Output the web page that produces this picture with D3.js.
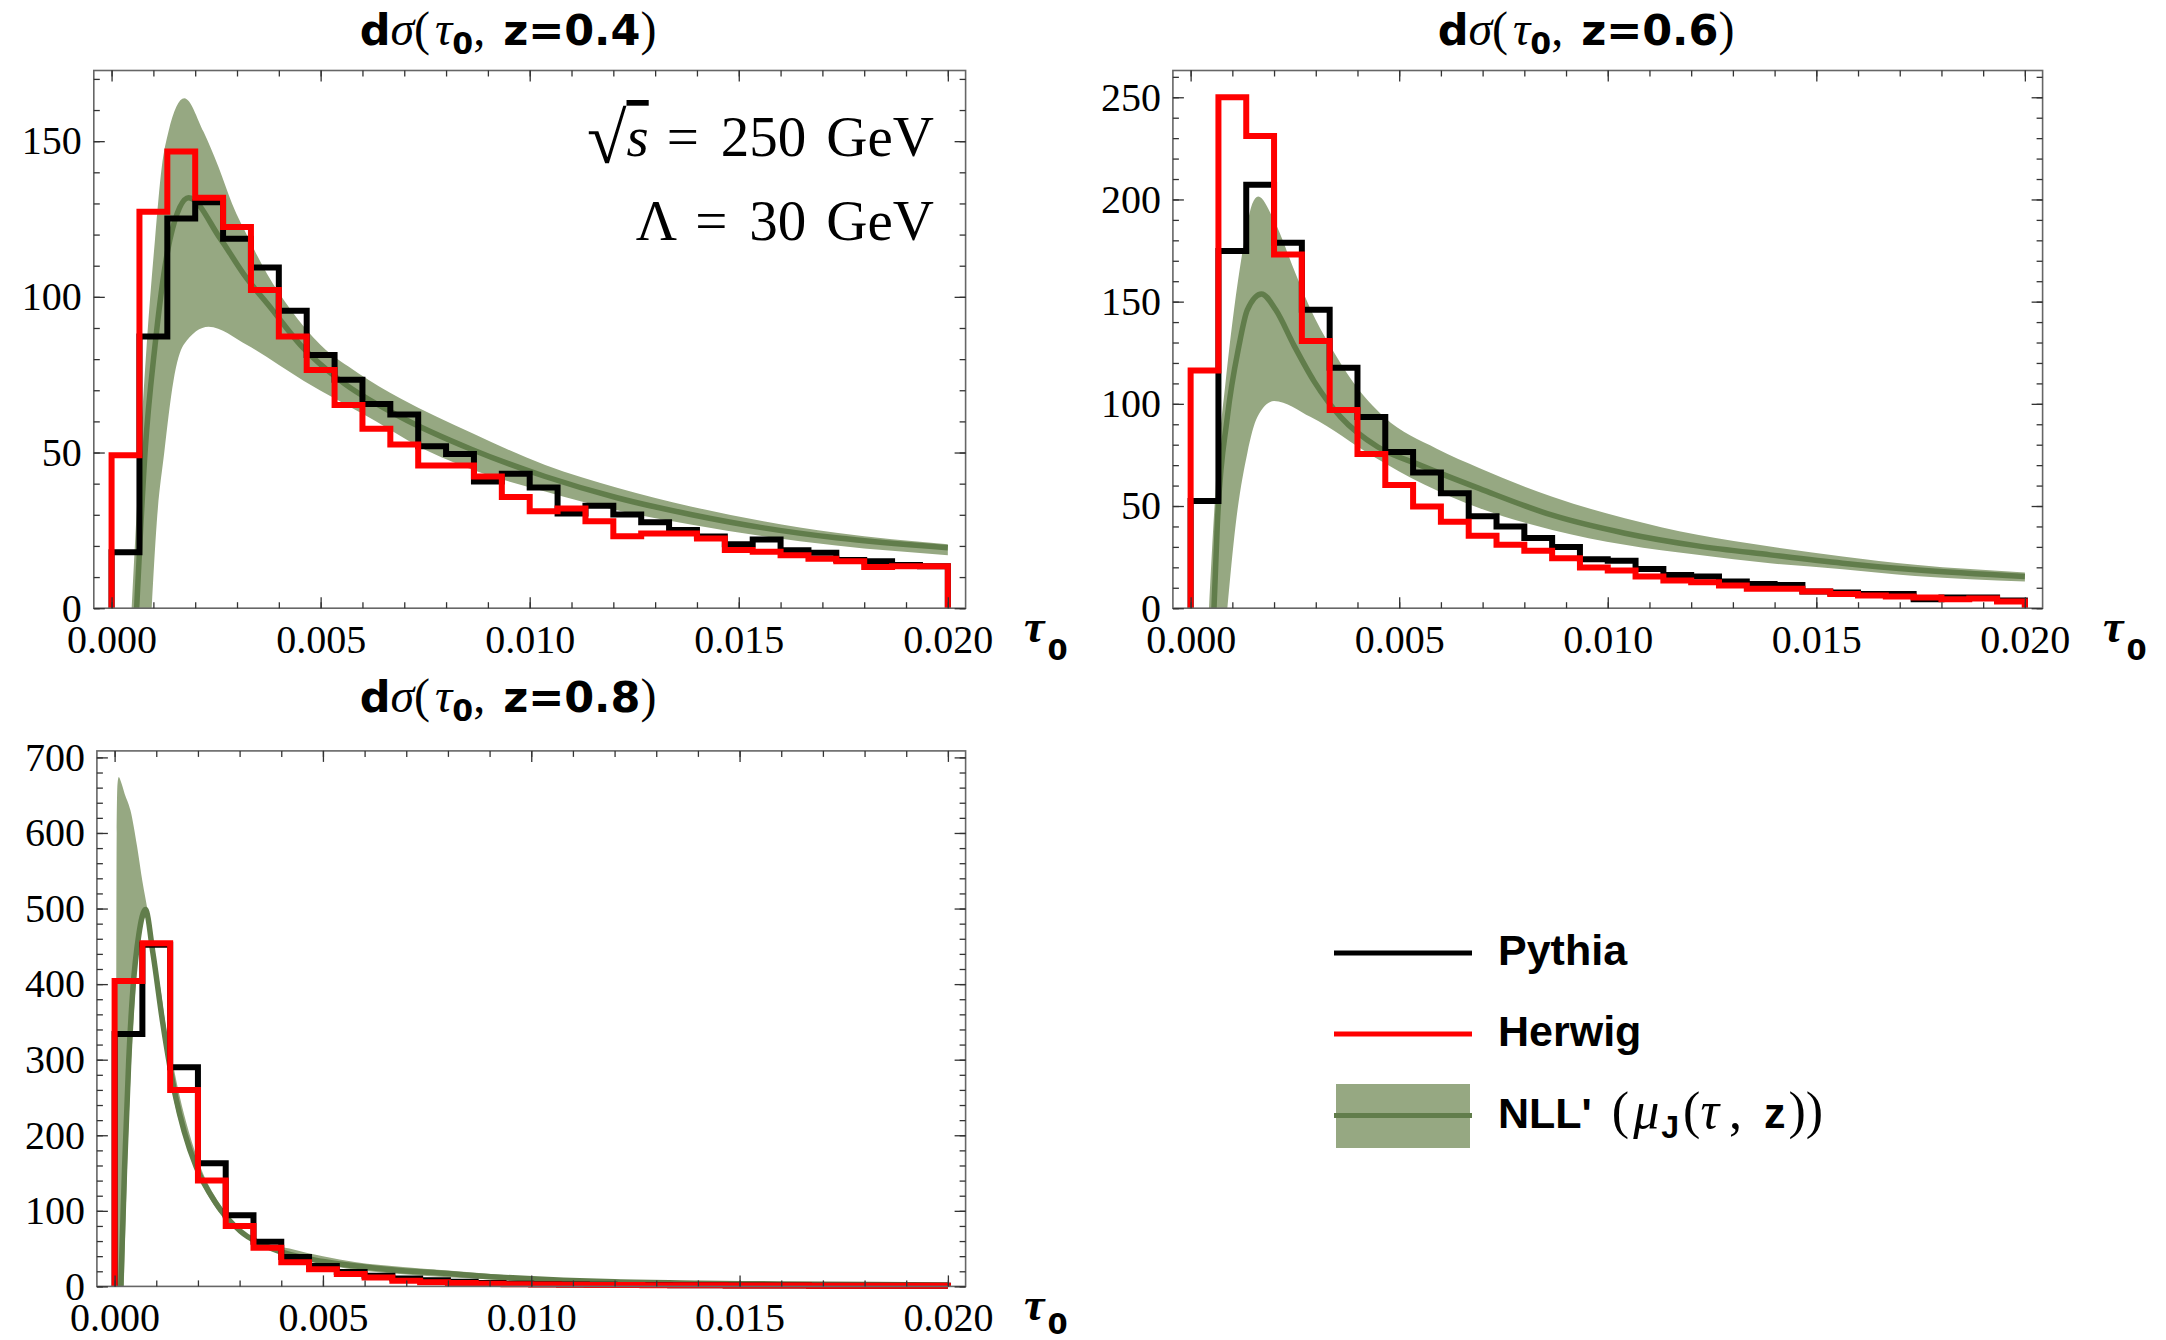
<!DOCTYPE html>
<html lang="en">
<head>
<meta charset="UTF-8">
<title>dσ(τ0, z) – NLL' vs Pythia / Herwig</title>
<script src="https://d3js.org/d3.v7.min.js"></script>
<style>
  body { margin: 0; background: #fff; }
  svg { display: block; }
</style>
</head>
<body>
<svg id="chart" width="2166" height="1340"></svg>
<script>
// ---- data ----
const tauTickValues = [0, 0.005, 0.010, 0.015, 0.020];
const tauTickLabels = ["0.000", "0.005", "0.010", "0.015", "0.020"];
const zValues = ["0.4", "0.6", "0.8"];
const legendLabels = ["Pythia", "Herwig"];

// histogram heights, 30 bins of width 0.02/30
const pythia04 = [18.0, 87.3, 125.2, 130.4, 118.7, 109.4, 95.5, 81.3, 73.4, 65.6, 62.2, 52.0, 49.5, 40.7, 43.2,
                  38.8, 30.4, 32.9, 30.1, 27.6, 25.1, 23.0, 20.5, 22.1, 18.6, 17.8, 15.5, 15.1, 13.9, 13.5];
const herwig04 = [49.1, 127.3, 146.7, 131.8, 122.4, 102.2, 87.3, 76.5, 65.3, 57.6, 52.6, 45.8, 45.8, 42.3, 35.7,
                  31.1, 32.0, 27.9, 23.1, 24.0, 24.0, 22.4, 18.7, 18.1, 17.0, 15.9, 15.1, 13.2, 13.5, 13.5];
const pythia06 = [52.4, 174.8, 207.2, 178.8, 146.0, 117.7, 93.5, 76.4, 66.4, 56.3, 45.0, 40.0, 34.3, 29.9, 24.0,
                  23.2, 19.2, 16.3, 15.5, 13.1, 11.9, 11.4, 8.2, 7.7, 7.0, 6.9, 4.4, 5.2, 5.2, 3.8];
const herwig06 = [116.3, 250.0, 231.1, 173.1, 130.8, 97.0, 75.5, 60.3, 49.8, 42.3, 35.4, 31.0, 28.1, 24.5, 19.9,
                  18.4, 15.5, 13.5, 12.7, 11.1, 9.5, 9.5, 8.2, 7.0, 6.2, 5.7, 5.2, 4.4, 4.7, 3.3];
const pythia08 = [334, 452, 290, 163, 94, 59, 39, 27, 19, 14, 10.5, 8, 6, 4.5, 3.5,
                  3, 2.5, 2.2, 2, 1.8, 1.6, 1.5, 1.3, 1.2, 1.1, 1, 1, 0.9, 0.8, 0.8];
const herwig08 = [404, 454, 260, 140, 80, 51, 32, 22.6, 16.5, 11.8, 7.5, 5.5, 4.4, 3.5, 2.8,
                  2.5, 2.2, 2, 1.8, 1.6, 1.5, 1.4, 1.3, 1.2, 1.1, 1.0, 1.0, 0.9, 0.9, 0.8];

// NLL' band edges and central curve, [tau, value]
const upper04 = [[0.00048,0],[0.00068,50],[0.00084,84.5],[0.00104,118.7],[0.0012,141.6],[0.00136,153],[0.00174,163.8],
  [0.0022,153],[0.00256,141.6],[0.00288,130],[0.00328,118.7],[0.00372,107.3],[0.00428,95.9],[0.005,84.5],[0.0059,75.5],
  [0.0069,67.4],[0.00863,56.2],[0.01037,46],[0.01211,38.6],[0.01385,32.7],[0.01559,27.9],[0.01733,24.2],[0.02,20.5]];
const center04 = [[0.0006,0],[0.0008,50],[0.00104,84.5],[0.0014,118.7],[0.00184,131.8],[0.0026,118.7],[0.00316,107.3],
  [0.00384,95.9],[0.00452,84.5],[0.00548,73],[0.0069,61.5],[0.00863,50.9],[0.01037,42.3],[0.01211,35.4],[0.01385,30.1],
  [0.01559,25.8],[0.01733,22.6],[0.02,19.4]];
const lower04 = [[0.00096,0],[0.00108,27.4],[0.00126,50],[0.00148,73],[0.00172,84.5],[0.00232,90.4],[0.00324,84.5],
  [0.0046,73],[0.00612,61.6],[0.00764,50],[0.00863,44.5],[0.01037,37.5],[0.01211,31.4],[0.01385,26.9],[0.01559,23.1],
  [0.01733,20.1],[0.02,17.0]];

const upper06 = [[0.00044,0],[0.0006,58.6],[0.00084,111],[0.00104,146],[0.0013,181],[0.00148,198],[0.00162,201.4],
  [0.002,189.7],[0.00252,163.5],[0.00288,146],[0.00334,128.5],[0.00388,111],[0.00464,93.5],[0.0059,78],[0.00693,68.5],
  [0.00867,54.5],[0.01041,44],[0.01215,35.9],[0.01389,30.2],[0.01563,25.3],[0.01737,21.2],[0.02,17.5]];
const center06 = [[0.00056,0],[0.00064,41],[0.00088,93.5],[0.00116,128.5],[0.00136,146],[0.0017,153.8],[0.00204,146],
  [0.00248,128.5],[0.00296,111],[0.0036,93.5],[0.00448,79],[0.0055,70],[0.00693,58.5],[0.00867,45.5],[0.01041,36.7],
  [0.01215,30.5],[0.01389,26.1],[0.01563,22],[0.01737,18.8],[0.02,15.5]];
const lower06 = [[0.00088,0],[0.00108,41],[0.00136,76],[0.0016,93.5],[0.002,101.4],[0.00288,93.5],[0.0044,74],
  [0.0056,60.5],[0.00693,48.9],[0.00867,38.3],[0.01041,31],[0.01215,26.1],[0.01389,22],[0.01563,19.1],[0.01737,15.8],
  [0.02,13.1]];

const upper08 = [[0.00004,0],[0.00005,600],[0.00007,665],[0.0001,674],[0.00015,668],[0.00024,652],[0.00038,630],
  [0.00054,582],[0.00067,535],[0.00079,498],[0.00094,441],[0.0011,394],[0.00122,347],[0.00138,300],[0.00156,252],
  [0.00178,205],[0.00206,158],[0.0025,111],[0.00294,80],[0.00334,64],[0.0042,50],[0.0058,32],[0.00685,26],[0.008,21],
  [0.0104,11],[0.012,7.5],[0.014,5.5],[0.016,4],[0.02,2.6]];
const center08 = [[0.00015,0],[0.00024,158],[0.00034,300],[0.00044,394],[0.00058,465],[0.00074,498.6],[0.00092,441],
  [0.00116,347],[0.00146,252],[0.00167,205],[0.00196,158],[0.00242,111],[0.00302,73],[0.00378,50],[0.005,33],[0.0058,27],
  [0.00685,21],[0.008,17],[0.0086,14.5],[0.0104,9],[0.012,6],[0.014,4.3],[0.016,3.2],[0.02,2]];
const lower08 = [[0.00022,0],[0.0003,158],[0.0004,300],[0.0005,394],[0.00062,470],[0.00075,488],[0.0009,436],
  [0.00114,340],[0.00142,248],[0.00164,202],[0.00194,155],[0.00238,108],[0.00294,73],[0.00366,50],[0.00486,31],
  [0.0058,22],[0.00685,16.3],[0.0076,13.5],[0.0086,10.6],[0.01033,5.5],[0.012,3.5],[0.014,2.4],[0.016,1.8],[0.02,1.2]];

// ---- styling / layout ----
const serif = "'Liberation Serif', 'Times New Roman', serif";
const boldSans = "'DejaVu Sans', Verdana, sans-serif";
const legendSans = "'Liberation Sans', Arial, sans-serif";
const bandFill = "#96a882";
const bandLine = "#617d4b";
const tickCol = "#333";

const panels = [
  { z: zValues[0], frame: { x0: 93.8, y0: 70.5, x1: 965.6, y1: 608.2 }, yMax: 172.7, yMajor: 50, yMinor: 10,
    pythia: pythia04, herwig: herwig04, upper: upper04, center: center04, lower: lower04,
    titleX: 508, titleY: 45, tauX: 1024 },
  { z: zValues[1], frame: { x0: 1172.9, y0: 70.5, x1: 2042.6, y1: 608.2 }, yMax: 263.1, yMajor: 50, yMinor: 10,
    pythia: pythia06, herwig: herwig06, upper: upper06, center: center06, lower: lower06,
    titleX: 1586, titleY: 45, tauX: 2103 },
  { z: zValues[2], frame: { x0: 96.9, y0: 750.9, x1: 965.6, y1: 1286.4 }, yMax: 708.6, yMajor: 100, yMinor: 20,
    pythia: pythia08, herwig: herwig08, upper: upper08, center: center08, lower: lower08,
    titleX: 508, titleY: 712, tauX: 1024 }
];

const svg = d3.select("#chart");
const nBins = pythia04.length;
const binWidth = 0.02 / nBins;

function histPoints(values) {
  const pts = [[0, 0]];
  values.forEach((v, i) => pts.push([i * binWidth, v]));
  pts.push([0.02, values[values.length - 1]]);
  pts.push([0.02, 0]);
  return pts;
}

panels.forEach((p, pi) => {
  const f = p.frame;
  const x = d3.scaleLinear().domain([-0.000425, 0.020425]).range([f.x0, f.x1]);
  const y = d3.scaleLinear().domain([0, p.yMax]).range([f.y1, f.y0]);
  const g = svg.append("g");

  // uncertainty band: area under upper minus area under lower
  const area = d3.area().x(d => x(d[0])).y0(y(0)).y1(d => y(d[1])).curve(d3.curveMonotoneX);
  g.append("path")
    .attr("d", area(p.upper) + area(p.lower))
    .attr("fill", bandFill)
    .attr("fill-rule", "evenodd");

  const line = d3.line().x(d => x(d[0])).y(d => y(d[1])).curve(d3.curveMonotoneX);
  g.append("path")
    .attr("d", line(p.center))
    .attr("fill", "none")
    .attr("stroke", bandLine)
    .attr("stroke-width", 5.5);

  const step = d3.line().x(d => x(d[0])).y(d => y(d[1])).curve(d3.curveStepAfter);
  g.append("path")
    .attr("d", step(histPoints(p.pythia)))
    .attr("fill", "none").attr("stroke", "#000").attr("stroke-width", 6);
  g.append("path")
    .attr("d", step(histPoints(p.herwig)))
    .attr("fill", "none").attr("stroke", "#ff0000").attr("stroke-width", 6);

  // frame
  g.append("rect")
    .attr("x", f.x0).attr("y", f.y0)
    .attr("width", f.x1 - f.x0).attr("height", f.y1 - f.y0)
    .attr("fill", "none").attr("stroke", "#666").attr("stroke-width", 1.6);

  const xMinor = d3.range(21).map(i => i * 0.001);
  const yMajorVals = d3.range(0, p.yMax, p.yMajor);
  const yMinorVals = d3.range(0, p.yMax, p.yMinor);

  function addAxis(gen, transform, values, size, fmt, pad) {
    const a = g.append("g").attr("transform", transform)
      .call(gen.tickValues(values).tickSizeInner(-size).tickSizeOuter(0).tickPadding(pad).tickFormat(fmt));
    a.select(".domain").remove();
    a.selectAll("line").attr("stroke", tickCol).attr("stroke-width", 1.3);
    a.selectAll("text").attr("font-family", serif).attr("font-size", 40).attr("fill", "#000");
    return a;
  }

  // minor ticks
  addAxis(d3.axisBottom(x), `translate(0,${f.y1})`, xMinor, 6, () => "", 0);
  addAxis(d3.axisTop(x), `translate(0,${f.y0})`, xMinor, 6, () => "", 0);
  addAxis(d3.axisLeft(y), `translate(${f.x0},0)`, yMinorVals, 6, () => "", 0);
  addAxis(d3.axisRight(y), `translate(${f.x1},0)`, yMinorVals, 6, () => "", 0);
  // major ticks
  addAxis(d3.axisBottom(x), `translate(0,${f.y1})`, tauTickValues, 11, (d, i) => tauTickLabels[i], 16.5);
  addAxis(d3.axisTop(x), `translate(0,${f.y0})`, tauTickValues, 11, () => "", 0);
  addAxis(d3.axisLeft(y), `translate(${f.x0},0)`, yMajorVals, 11, d3.format("d"), 12);
  addAxis(d3.axisRight(y), `translate(${f.x1},0)`, yMajorVals, 11, () => "", 0);

  // title  dσ(τ0, z=…)
  const t = svg.append("text")
    .attr("x", p.titleX).attr("y", p.titleY)
    .attr("text-anchor", "middle").attr("font-size", 43);
  t.append("tspan").attr("font-family", boldSans).attr("font-weight", "bold").text("d");
  t.append("tspan").attr("font-family", serif).attr("font-style", "italic").attr("font-size", 48).text("σ");
  t.append("tspan").attr("font-family", serif).attr("font-size", 48).text("(");
  t.append("tspan").attr("dx", 5).attr("font-family", serif).attr("font-style", "italic").attr("font-size", 48).text("τ");
  t.append("tspan").attr("font-family", boldSans).attr("font-weight", "bold").attr("font-size", 30).attr("dy", 9).text("0");
  t.append("tspan").attr("font-family", serif).attr("dy", -9).attr("font-size", 48).text(",");
  t.append("tspan").attr("dx", 18).attr("font-family", boldSans).attr("font-weight", "bold").text("z=" + p.z);
  t.append("tspan").attr("font-family", serif).attr("font-size", 48).text(")");

  // axis label τ0
  const tl = svg.append("text").attr("x", p.tauX).attr("y", f.y1 + 34);
  tl.append("tspan").attr("font-family", serif).attr("font-style", "italic").attr("font-weight", "bold")
    .attr("font-size", 46).text("τ");
  tl.append("tspan").attr("dx", 3).attr("dy", pi === 2 ? 14 : 18).attr("font-family", boldSans).attr("font-weight", "bold")
    .attr("font-size", 29).text("0");
});

// annotations in first panel
const ann1 = svg.append("text").attr("x", 934).attr("y", 156).attr("text-anchor", "end")
  .attr("font-family", serif).attr("font-size", 57);
ann1.append("tspan").attr("font-size", 72).attr("dy", 7).text("√");
ann1.append("tspan").attr("dy", -7).attr("font-style", "italic").style("text-decoration", "overline").text("s");
ann1.append("tspan").attr("dx", 18).text("=");
ann1.append("tspan").attr("dx", 22).text("250");
ann1.append("tspan").attr("dx", 20).text("GeV");

const ann2 = svg.append("text").attr("x", 934).attr("y", 240).attr("text-anchor", "end")
  .attr("font-family", serif).attr("font-size", 57);
ann2.append("tspan").text("Λ");
ann2.append("tspan").attr("dx", 18).text("=");
ann2.append("tspan").attr("dx", 22).text("30");
ann2.append("tspan").attr("dx", 20).text("GeV");

// legend
const lg = svg.append("g");
const legendColors = ["#000", "#ff0000"];
const legendY = [953, 1034];
legendLabels.forEach((lab, i) => {
  lg.append("line").attr("x1", 1334).attr("x2", 1472).attr("y1", legendY[i]).attr("y2", legendY[i])
    .attr("stroke", legendColors[i]).attr("stroke-width", 5);
  lg.append("text").attr("x", 1498).attr("y", legendY[i] + 12)
    .attr("font-family", legendSans).attr("font-weight", "bold").attr("font-size", 43).text(lab);
});
lg.append("rect").attr("x", 1336).attr("y", 1084).attr("width", 134).attr("height", 64).attr("fill", bandFill);
lg.append("line").attr("x1", 1334).attr("x2", 1472).attr("y1", 1115.5).attr("y2", 1115.5)
  .attr("stroke", bandLine).attr("stroke-width", 5);
const nl = lg.append("text").attr("x", 1498).attr("y", 1127.5).attr("font-size", 52);
nl.append("tspan").attr("font-family", legendSans).attr("font-weight", "bold").attr("font-size", 43).text("NLL'");
nl.append("tspan").attr("dx", 20).attr("font-family", serif).text("(");
nl.append("tspan").attr("dx", 4).attr("font-family", serif).attr("font-style", "italic").text("μ");
nl.append("tspan").attr("dx", 2).attr("dy", 10).attr("font-family", legendSans).attr("font-weight", "bold").attr("font-size", 32).text("J");
nl.append("tspan").attr("dx", 4).attr("dy", -10).attr("font-family", serif).text("(");
nl.append("tspan").attr("font-family", serif).attr("font-style", "italic").text("τ");
nl.append("tspan").attr("dx", 10).attr("font-family", serif).text(",");
nl.append("tspan").attr("dx", 22).attr("font-family", legendSans).attr("font-weight", "bold").attr("font-size", 43).text("z");
nl.append("tspan").attr("dx", 3).attr("font-family", serif).text(")");
nl.append("tspan").attr("font-family", serif).text(")");
</script>
</body>
</html>
